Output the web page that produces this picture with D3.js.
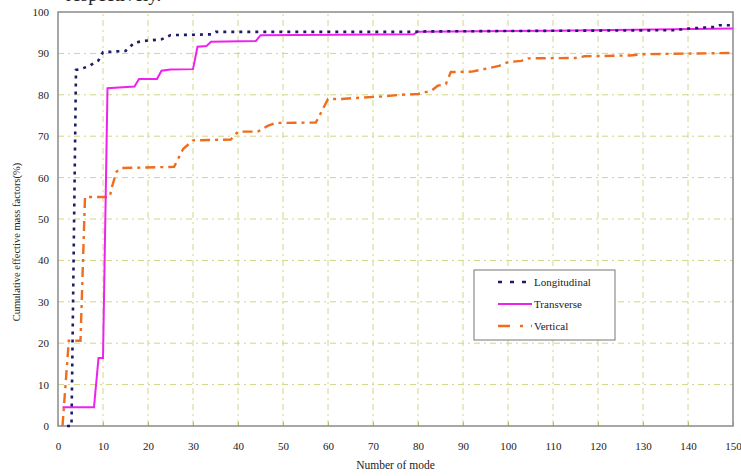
<!DOCTYPE html>
<html>
<head>
<meta charset="utf-8">
<script src="https://cdn.jsdelivr.net/npm/d3@7"></script>
<style>
  body { margin: 0; background: #fff; }
  svg { display: block; }
  text { font-family: "Liberation Serif", "DejaVu Serif", serif; fill: #222; }
</style>
</head>
<body>
<script>
'use strict';

// series: [mode, cumulative %]
const longitudinal = [
  [2, 0], [3, 0], [4, 86], [5, 86.2], [7, 87], [9, 88.3], [10, 90.3], [15, 90.6],
  [17, 92.6], [19, 93], [21, 93.2], [23, 93.4], [25, 94.4], [34, 94.6], [35, 95.2],
  [79, 95.2], [80, 95.3], [137, 95.6], [140, 96], [146, 96.4], [147, 96.8], [150, 96.8]
];
const transverse = [
  [1, 4.5], [8, 4.5], [9, 16.4], [10, 16.4], [11, 81.6], [17, 82], [18, 83.8],
  [22, 83.8], [23, 85.8], [25, 86.1], [30, 86.2], [31, 91.6], [33, 91.8],
  [34, 92.8], [44, 93], [45, 94.4], [79, 94.6], [80, 95.2], [110, 95.5], [150, 96]
];
const vertical = [
  [1, 0], [2.4, 20.6], [5, 20.6], [6, 55.3], [11.5, 55.3], [12, 57.8], [13, 61.4],
  [14, 62.3], [25.8, 62.6], [27.8, 66.9], [30, 69], [38.4, 69.2], [40, 71.1],
  [44.4, 71.1], [46.6, 72.5], [48.4, 73.2], [57.3, 73.3], [58.4, 75.6], [60, 79],
  [63, 79], [67, 79.3], [72, 79.6], [76, 80], [80, 80.2], [83, 81], [84.4, 82.2],
  [86.2, 82.6], [87.3, 85.5], [92, 85.6], [96, 86.5], [98, 87], [100, 87.9],
  [103, 88.2], [104.4, 88.8], [115, 88.9], [117, 89.3], [127, 89.5], [130, 89.8],
  [150, 90.1]
];

const xTicks = d3.range(0, 151, 10);
const yTicks = d3.range(0, 101, 10);
const seriesNames = ['Longitudinal', 'Transverse', 'Vertical'];

const W = 741, H = 476;
const m = { left: 58, right: 8, top: 12, bottom: 50 };

const svg = d3.select('body').append('svg').attr('width', W).attr('height', H);

const x = d3.scaleLinear().domain([0, 150]).range([m.left, W - m.right]);
const y = d3.scaleLinear().domain([0, 100]).range([H - m.bottom, m.top]);

// clipped caption line from the page above (only its lower edge shows)
svg.append('text')
  .attr('x', 66).attr('y', 1)
  .style('font-size', '19px')
  .text('respectively.');

// grid
const gridColor = '#d2d684';
svg.append('g').selectAll('line')
  .data(xTicks.filter((d) => d > 0 && d < 150))
  .join('line')
  .attr('x1', (d) => x(d)).attr('x2', (d) => x(d))
  .attr('y1', y(0)).attr('y2', y(100))
  .attr('stroke', gridColor).attr('stroke-width', 1)
  .attr('stroke-dasharray', '6,4,2,4');
svg.append('g').selectAll('line')
  .data(yTicks.filter((d) => d > 0 && d < 100))
  .join('line')
  .attr('x1', x(0)).attr('x2', x(150))
  .attr('y1', (d) => y(d)).attr('y2', (d) => y(d))
  .attr('stroke', gridColor).attr('stroke-width', 1)
  .attr('stroke-dasharray', '6,4,2,4');

// axes
const xAxis = svg.append('g')
  .attr('transform', `translate(0,${y(0)})`)
  .call(d3.axisBottom(x).tickValues(xTicks).tickSizeInner(-4).tickSizeOuter(0).tickPadding(16));
const yAxis = svg.append('g')
  .attr('transform', `translate(${x(0)},0)`)
  .call(d3.axisLeft(y).tickValues(yTicks).tickSize(0).tickPadding(9));
[xAxis, yAxis].forEach((g) => {
  g.select('.domain').remove();
  g.selectAll('text').style('font-size', '11px')
    .style('font-family', '"Liberation Serif", serif').attr('fill', '#222');
});
xAxis.selectAll('line').attr('stroke', '#b8bd70');

// frame
svg.append('rect')
  .attr('x', x(0)).attr('y', y(100))
  .attr('width', x(150) - x(0)).attr('height', y(0) - y(100))
  .attr('fill', 'none').attr('stroke', '#8a8a8a').attr('stroke-width', 1.5);

const line = d3.line().x((d) => x(d[0])).y((d) => y(d[1]));

const styles = [
  { data: longitudinal, color: '#1c1c6a', width: 2.6, dash: '3,5' },
  { data: transverse, color: '#ee22ee', width: 2, dash: null },
  { data: vertical, color: '#ef6d1f', width: 2.4, dash: '10,5,3,5' }
];

svg.append('g').selectAll('path')
  .data([styles[2], styles[1], styles[0]])
  .join('path')
  .attr('d', (d) => line(d.data))
  .attr('fill', 'none')
  .attr('stroke', (d) => d.color)
  .attr('stroke-width', (d) => d.width)
  .attr('stroke-dasharray', (d) => d.dash);

// legend
const lg = svg.append('g');
lg.append('rect')
  .attr('x', 474).attr('y', 270).attr('width', 141).attr('height', 70)
  .attr('fill', '#fff').attr('stroke', '#777').attr('stroke-width', 1);
const item = lg.selectAll('g.item')
  .data(styles)
  .join('g').attr('class', 'item')
  .attr('transform', (d, i) => `translate(0,${282 + i * 22})`);
item.append('line')
  .attr('x1', 498).attr('x2', 532)
  .attr('stroke', (d) => d.color)
  .attr('stroke-width', (d) => d.width)
  .attr('stroke-dasharray', (d, i) => i === 0 ? '4,8' : (i === 2 ? '12,10,3,8' : null));
item.append('text')
  .attr('x', 534).attr('y', 4)
  .style('font-size', '11px')
  .text((d, i) => seriesNames[i]);

// axis titles
svg.append('text')
  .attr('x', (x(0) + x(150)) / 2).attr('y', 469)
  .attr('text-anchor', 'middle')
  .style('font-size', '11.5px')
  .text('Number of mode');
svg.append('text')
  .attr('transform', `translate(20,${242}) rotate(-90)`)
  .attr('text-anchor', 'middle')
  .style('font-size', '10.5px')
  .text('Cumulative effective mass factors(%)');
</script>
</body>
</html>
